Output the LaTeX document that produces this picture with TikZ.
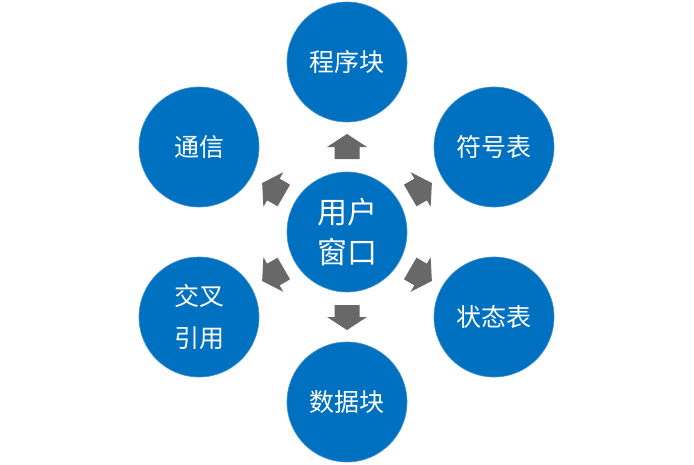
\documentclass[tikz,border=0pt]{standalone}
\usepackage{fontspec}
\newfontfamily\cjk{Noto Sans CJK SC}
\definecolor{cblue}{RGB}{0,112,192}
\definecolor{agray}{RGB}{104,104,104}
\begin{document}
\begin{tikzpicture}[x=1pt,y=-1pt,
  bub/.style={circle, fill=cblue, draw=cblue!75!white, line width=0.6pt,
    minimum size=120pt, inner sep=0pt, text=white, align=center,
    font=\cjk\fontsize{25}{42}\selectfont},
  hub/.style={bub, font=\cjk\fontsize{30}{40}\selectfont},
  blockarrow/.style={fill=agray, draw=none}]
\fill[white] (0,0) rectangle (694,464);
\useasboundingbox (0,0) rectangle (694,464);
\node[hub] (c) at (347,232) {用户\\窗口};
\node[bub] (p) at (347,62) {程序块};
\node[bub] (s) at (494,147) {符号表};
\node[bub] (z) at (494,317) {状态表};
\node[bub] (d) at (347,402) {数据块};
\node[bub] (x) at (199,317) {交叉\\引用};
\node[bub] (t) at (199,147) {通信};
\foreach \a in {90,30,-30,-90,210,150}{
  \begin{scope}[shift={(c.center)}, rotate=\a]
    \fill[blockarrow] (73,-12.5) -- (85,-12.5) -- (85,-20) -- (98,0)
      -- (85,20) -- (85,12.5) -- (73,12.5) -- cycle;
  \end{scope}
}
\end{tikzpicture}
\end{document}
